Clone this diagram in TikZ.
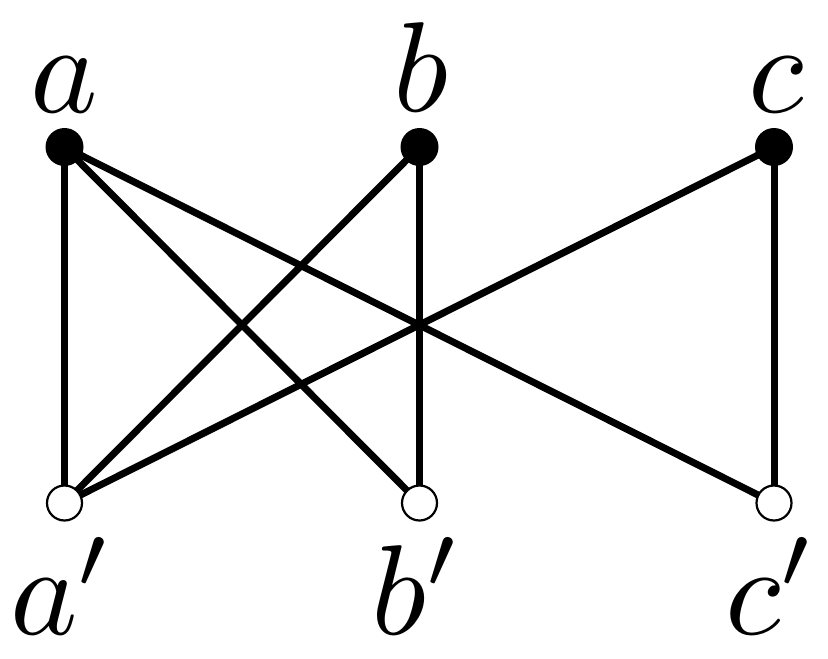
\documentclass[tikz,border=0pt]{standalone}
\usepackage{graphicx}
\begin{document}
\begin{tikzpicture}[x=1pt,y=-1pt,
  edge/.style={line width=7pt},
  full/.style={circle,fill=black,minimum size=38pt,inner sep=0pt},
  hollow/.style={circle,draw=black,fill=white,line width=2.2pt,minimum size=35pt,inner sep=0pt},
  lab/.style={anchor=base,inner sep=0pt}]
\useasboundingbox (0,0) rectangle (828,659);
\coordinate (pa) at (64.5,147);
\coordinate (pb) at (419.5,147);
\coordinate (pc) at (774,147);
\coordinate (pa2) at (64.5,503);
\coordinate (pb2) at (419.5,503);
\coordinate (pc2) at (774,503);
\draw[edge] (pa) -- (pa2);
\draw[edge] (pa) -- (pb2);
\draw[edge] (pa) -- (pc2);
\draw[edge] (pb) -- (pa2);
\draw[edge] (pb) -- (pb2);
\draw[edge] (pc) -- (pa2);
\draw[edge] (pc) -- (pc2);
\node[full] (a) at (pa) {};
\node[full] (b) at (pb) {};
\node[full] (c) at (pc) {};
\node[hollow] (a2) at (pa2) {};
\node[hollow] (b2) at (pb2) {};
\node[hollow] (c2) at (pc2) {};
\node[lab] (la) at (64,112) {\scalebox{12.8}{$a$}};
\node[lab] (lb) at (421,111) {\scalebox{12.8}{$b$}};
\node[lab] (lc) at (776,112) {\scalebox{12.8}{$c$}};
\node[lab] (la2) at (62,634) {\scalebox{12.8}{$a'$}};
\node[lab] (lb2) at (417,634) {\scalebox{12.8}{$b'$}};
\node[lab] (lc2) at (771,634) {\scalebox{12.8}{$c'$}};
\end{tikzpicture}
\end{document}
